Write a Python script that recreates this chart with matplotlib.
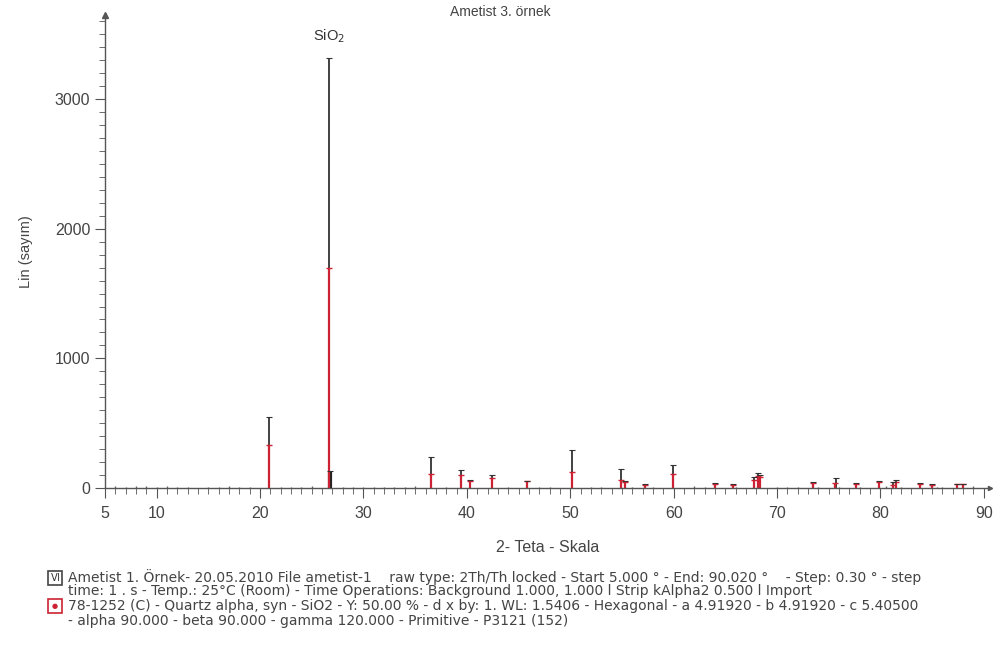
import matplotlib.pyplot as plt
from matplotlib.ticker import MultipleLocator
from matplotlib.patches import Rectangle

plt.rcParams['font.family'] = ['Liberation Sans', 'DejaVu Sans']

# measured pattern (peak position 2-theta, counts)
meas_pos = [20.85, 26.64, 26.78, 36.54, 39.46, 40.29, 42.45, 45.79, 50.14, 54.87, 55.32,
            57.24, 59.96, 64.03, 65.78, 67.74, 68.14, 68.32, 73.47, 75.66, 77.67,
            79.88, 81.17, 81.49, 83.84, 84.95, 87.44, 88.0]
meas_cnt = [545, 3320, 130, 240, 140, 60, 100, 55, 290, 150, 55,
            30, 180, 35, 30, 85, 115, 100, 45, 75, 40,
            50, 45, 60, 40, 30, 30, 30]
# reference 78-1252 quartz sticks
ref_pos = [20.86, 26.64, 36.54, 39.47, 40.30, 42.46, 45.80, 50.14, 54.88, 55.33,
           57.24, 59.96, 64.04, 65.79, 67.74, 68.14, 68.32, 73.48, 75.65, 77.68,
           79.88, 81.18, 81.50, 83.84, 84.95, 87.45, 88.0]
ref_cnt = [335, 1700, 110, 100, 55, 80, 50, 120, 60, 45,
           25, 110, 30, 25, 60, 90, 85, 40, 40, 30,
           45, 25, 45, 30, 25, 30, 30]
# low background wiggles along baseline
bg_pos = [6, 7, 8, 9, 10, 11, 12, 13, 15, 16, 17, 18, 19, 22, 23, 24, 25, 28, 29, 30,
          31, 32, 33, 34, 35, 38, 44, 47, 48, 52, 53, 56, 58, 62, 63, 66, 70, 71, 72,
          74, 76, 78, 80.5, 82, 85.5, 86, 89]
bg_cnt = [12, 10, 14, 12, 10, 15, 11, 9, 8, 10, 12, 9, 8, 9, 10, 8, 12, 9, 10, 11,
          8, 9, 10, 8, 12, 10, 9, 8, 10, 9, 8, 10, 9, 12, 8, 10, 9, 8, 10,
          9, 10, 8, 12, 9, 10, 8, 14]

fig = plt.figure(figsize=(10, 6.48), dpi=100)
ax = fig.add_axes([0.105, 0.247, 0.885, 0.73])

gray = '#555555'
ax.vlines(bg_pos, 0, bg_cnt, color='#666666', lw=1)
ax.vlines(meas_pos, 0, meas_cnt, color='#333333', lw=1.3)
ax.vlines(meas_pos[2], 0, meas_cnt[2], color='#222222', lw=3)
ax.vlines(ref_pos, 0, ref_cnt, color='#cc2233', lw=1.6)
ax.plot(ref_pos, ref_cnt, ls='none', marker='_', ms=5, color='#cc2233', mew=1)
ax.plot(meas_pos, meas_cnt, ls='none', marker='_', ms=5, color='#333333', mew=0.8)

ax.set_xlim(5, 90.6)
ax.set_ylim(0, 3650)
ax.set_xticks([5, 10, 20, 30, 40, 50, 60, 70, 80, 90])
ax.xaxis.set_minor_locator(MultipleLocator(1))
ax.yaxis.set_major_locator(MultipleLocator(1000))
ax.yaxis.set_minor_locator(MultipleLocator(100))
for s in ['top', 'right']:
    ax.spines[s].set_visible(False)
for s in ['left', 'bottom']:
    ax.spines[s].set_color(gray)
    ax.spines[s].set_linewidth(1)
ax.tick_params(axis='both', which='major', length=7, color=gray, labelcolor='#444444',
               labelsize=11.5, direction='out')
ax.tick_params(axis='both', which='minor', length=4, color=gray, direction='out')
ax.tick_params(axis='x', which='major', pad=6)
ax.plot([5], [3650], marker='^', ms=4, color=gray, clip_on=False)
ax.plot([90.6], [0], marker='>', ms=3, color=gray, clip_on=False)

ax.text(26.64, 3420, 'SiO$_2$', ha='center', va='bottom', fontsize=10.5, color='#333333')
fig.text(0.5, 0.982, 'Ametist 3. örnek', ha='center', va='center', fontsize=10, color='#444444')
ax.set_ylabel('Lin (sayım)', fontsize=10.5, color='#444444', labelpad=16)
ax.set_xlabel('2- Teta - Skala', fontsize=11.5, color='#444444', labelpad=14)

txt = '#444444'
lines = [
    'Ametist 1. Örnek- 20.05.2010 File ametist-1    raw type: 2Th/Th locked - Start 5.000 ° - End: 90.020 °    - Step: 0.30 ° - step',
    'time: 1 . s - Temp.: 25°C (Room) - Time Operations: Background 1.000, 1.000 l Strip kAlpha2 0.500 l Import',
    '78-1252 (C) - Quartz alpha, syn - SiO2 - Y: 50.00 % - d x by: 1. WL: 1.5406 - Hexagonal - a 4.91920 - b 4.91920 - c 5.40500',
    '- alpha 90.000 - beta 90.000 - gamma 120.000 - Primitive - P3121 (152)',
]
ys = [577, 591.5, 606, 620.5]
for t, y in zip(lines, ys):
    fig.text(0.068, 1 - y / 648, t, ha='left', va='center', fontsize=10, color=txt,
             family=['DejaVu Sans'])

# legend icons
fig.patches.append(Rectangle((0.048, 1 - 585 / 648), 0.014, 14 / 648, transform=fig.transFigure,
                             fill=False, ec='#444444', lw=1.2))
fig.text(0.055, 1 - 578 / 648, 'Ⅵ', ha='center', va='center', fontsize=7, color='#333333')
fig.patches.append(Rectangle((0.048, 1 - 613 / 648), 0.014, 14 / 648, transform=fig.transFigure,
                             fill=False, ec='#cc2233', lw=1.2))
fig.text(0.055, 1 - 606 / 648, '●', ha='center', va='center', fontsize=5, color='#cc2233',
         family=['DejaVu Sans'])

fig.savefig('out.png', dpi=100)
